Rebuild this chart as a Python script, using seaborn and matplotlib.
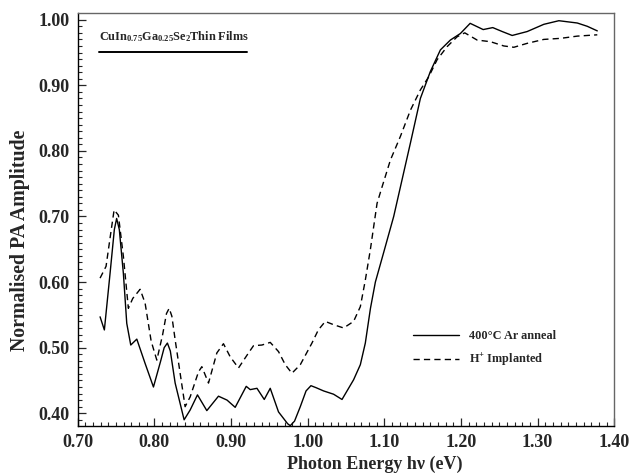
import numpy as np
import pandas as pd
import matplotlib
matplotlib.use("Agg")
import matplotlib.pyplot as plt
import seaborn as sns
from matplotlib.ticker import MultipleLocator, FormatStrFormatter

# ---- data ----
anneal_x = [0.7294, 0.7350, 0.7424, 0.7480, 0.7510, 0.7545, 0.7598, 0.7642, 0.7694, 0.7773,
            0.7881, 0.7990, 0.8085, 0.8130, 0.8172, 0.8210, 0.8273, 0.8390, 0.8469, 0.8564,
            0.8686, 0.8838, 0.8950, 0.9056, 0.9200, 0.9252, 0.9340, 0.9435, 0.9513, 0.9621,
            0.9687, 0.9740, 0.9774, 0.9830, 0.9905, 0.9980, 1.0044, 1.0110, 1.0209, 1.0339,
            1.0449, 1.0600, 1.0688, 1.0753, 1.0820, 1.0884, 1.0992, 1.1123, 1.1230, 1.1341,
            1.1471, 1.1601, 1.1732, 1.1862, 1.1993, 1.2120, 1.2290, 1.2415, 1.2538, 1.2668,
            1.2864, 1.3081, 1.3277, 1.3517, 1.3647, 1.3778]
anneal_y = [0.547, 0.527, 0.613, 0.680, 0.697, 0.680, 0.613, 0.537, 0.504, 0.513,
            0.476, 0.440, 0.480, 0.500, 0.507, 0.495, 0.446, 0.390, 0.405, 0.428,
            0.404, 0.426, 0.420, 0.409, 0.441, 0.436, 0.438, 0.421, 0.438, 0.402,
            0.392, 0.384, 0.381, 0.388, 0.410, 0.434, 0.442, 0.439, 0.434, 0.429,
            0.421, 0.451, 0.474, 0.507, 0.560, 0.600, 0.645, 0.700, 0.755, 0.812,
            0.880, 0.921, 0.954, 0.969, 0.979, 0.9945, 0.985, 0.988, 0.982, 0.976,
            0.982, 0.993, 0.9985, 0.995, 0.990, 0.983]

implant_x = [0.7294, 0.7372, 0.7424, 0.7477, 0.7533, 0.7598, 0.7663, 0.7720, 0.7816, 0.7881,
             0.7960, 0.8034, 0.8110, 0.8160, 0.8195, 0.8230, 0.8273, 0.8403, 0.8469, 0.8577,
             0.8621, 0.8708, 0.8817, 0.8903, 0.8991, 0.9099, 0.9230, 0.9295, 0.9405, 0.9513,
             0.9621, 0.9709, 0.9796, 0.9905, 1.0057, 1.0140, 1.0231, 1.0339, 1.0470, 1.0600,
             1.0688, 1.0753, 1.0818, 1.0906, 1.0971, 1.1080, 1.1210, 1.1341, 1.1471, 1.1580,
             1.1689, 1.1820, 1.1950, 1.2050, 1.2211, 1.2385, 1.2559, 1.2690, 1.2864, 1.3081,
             1.3299, 1.3517, 1.3778]
implant_y = [0.606, 0.624, 0.667, 0.710, 0.702, 0.639, 0.560, 0.575, 0.589, 0.568,
             0.510, 0.481, 0.520, 0.552, 0.560, 0.548, 0.512, 0.410, 0.425, 0.463,
             0.471, 0.446, 0.492, 0.506, 0.486, 0.469, 0.492, 0.503, 0.504, 0.508,
             0.494, 0.474, 0.461, 0.474, 0.507, 0.527, 0.540, 0.535, 0.530, 0.540,
             0.5625, 0.603, 0.649, 0.720, 0.745, 0.786, 0.822, 0.862, 0.893, 0.913,
             0.939, 0.959, 0.974, 0.980, 0.969, 0.9665, 0.960, 0.958, 0.964, 0.970,
             0.9716, 0.975, 0.977]

series_labels = ["400\u00b0C Ar anneal", "H$^{+}$ Implanted"]
x_ticks = [0.70, 0.80, 0.90, 1.00, 1.10, 1.20, 1.30, 1.40]
y_ticks = [0.40, 0.50, 0.60, 0.70, 0.80, 0.90, 1.00]
title_text = r"CuIn$_{0.75}$Ga$_{0.25}$Se$_{2}$Thin Films"
x_label = "Photon Energy h\u03bd (eV)"
y_label = "Normalised PA Amplitude"

# ---- style ----
sns.set_style("ticks")
plt.rcParams["font.family"] = ["Liberation Serif", "DejaVu Serif"]
plt.rcParams["font.weight"] = "bold"
plt.rcParams["mathtext.fontset"] = "custom"
plt.rcParams["mathtext.rm"] = "Liberation Serif:bold"
plt.rcParams["mathtext.it"] = "Liberation Serif:bold"
plt.rcParams["mathtext.bf"] = "Liberation Serif:bold"
plt.rcParams["mathtext.default"] = "rm"

fig = plt.figure(figsize=(6.36, 4.75), dpi=100)
ax = fig.add_axes([0.1219, 0.1038, 0.8440, 0.8682])

df_a = pd.DataFrame({"x": anneal_x, "y": anneal_y})
df_i = pd.DataFrame({"x": implant_x, "y": implant_y})
sns.lineplot(data=df_a, x="x", y="y", ax=ax, color="black", lw=1.0,
             sort=False, label=series_labels[0])
sns.lineplot(data=df_i, x="x", y="y", ax=ax, color="black", lw=1.0,
             sort=False, label=series_labels[1], linestyle=(0, (4.5, 3)))

ax.set_xlim(0.70, 1.40)
ax.set_ylim(0.381, 1.0098)
ax.set_xticks(x_ticks)
ax.set_yticks(y_ticks)
ax.xaxis.set_major_formatter(FormatStrFormatter("%.2f"))
ax.yaxis.set_major_formatter(FormatStrFormatter("%.2f"))
ax.xaxis.set_minor_locator(MultipleLocator(0.01))
ax.yaxis.set_minor_locator(MultipleLocator(0.01))
ax.tick_params(which="major", direction="in", length=5.5, width=0.9,
               labelsize=13, pad=6, top=False, right=False)
ax.tick_params(which="minor", direction="in", length=3, width=0.8,
               top=False, right=False)
for lab in ax.get_xticklabels() + ax.get_yticklabels():
    lab.set_fontweight("bold")

for s in ["left", "bottom"]:
    ax.spines[s].set_color("black")
    ax.spines[s].set_linewidth(1.0)
for s in ["top", "right"]:
    ax.spines[s].set_color("#666666")
    ax.spines[s].set_linewidth(1.0)

ax.set_xlabel(x_label, fontsize=13, fontweight="bold", labelpad=3)
ax.set_ylabel(y_label, fontsize=14.3, fontweight="bold", labelpad=6)
ax.xaxis.label.set_x(0.553)
ax.yaxis.label.set_y(0.450)

ax.text(0.0405, 0.935, title_text, transform=ax.transAxes, fontsize=8.8,
        fontweight="bold", ha="left", va="baseline")
ax.plot([0.0405, 0.3155], [0.907, 0.907], transform=ax.transAxes,
        color="black", lw=1.4)

leg = ax.legend(loc="upper left", bbox_to_anchor=(0.6244, 0.231), frameon=False,
                fontsize=8.8, handlelength=3.8, handletextpad=0.8,
                labelspacing=0.79, borderpad=0, borderaxespad=0)
for t in leg.get_texts():
    t.set_fontweight("bold")

fig.savefig("out.png", dpi=100)
